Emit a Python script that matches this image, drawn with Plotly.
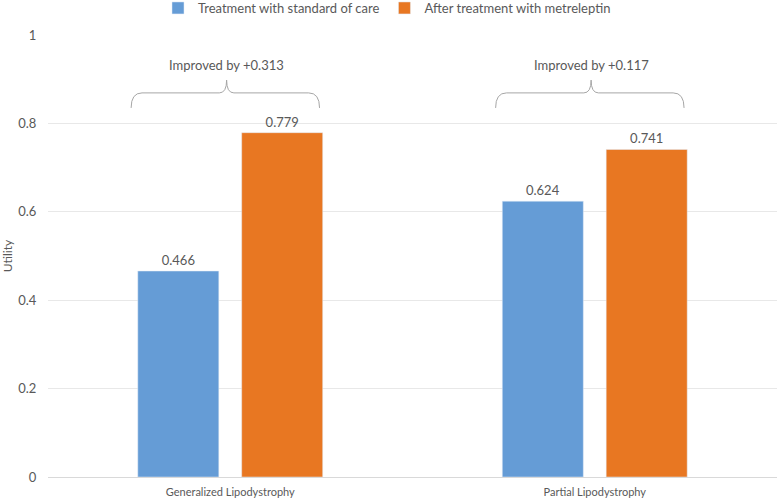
import plotly.graph_objects as go

categories = ["Generalized Lipodystrophy", "Partial Lipodystrophy"]
standard_care = [0.466, 0.624]
metreleptin = [0.779, 0.741]
improvements = ["+0.313", "+0.117"]
y_ticks = [0, 0.2, 0.4, 0.6, 0.8, 1]
y_tick_labels = ["0", "0.2", "0.4", "0.6", "0.8", "1"]

FONT = "Lato"
GRAY = "#595959"

fig = go.Figure()
fig.add_trace(go.Bar(
    name="Treatment with standard of care", x=categories, y=standard_care,
    marker_color="#659CD6", text=[f"{v:.3f}" for v in standard_care],
    textposition="outside", textfont=dict(color=GRAY, size=13, family=FONT),
    cliponaxis=False,
))
fig.add_trace(go.Bar(
    name="After treatment with metreleptin", x=categories, y=metreleptin,
    marker_color="#E87722", text=[f"{v:.3f}" for v in metreleptin],
    textposition="outside", textfont=dict(color=GRAY, size=13, family=FONT),
    cliponaxis=False,
))

# braces and improvement annotations
for i, imp in enumerate(improvements):
    x0, x1, xc = i - 0.272, i + 0.245, i - 0.01
    yb, yh, yp = 0.835, 0.869, 0.898
    path = (f"M {x0},{yb} Q {x0},{yh} {x0+0.03},{yh} "
            f"L {xc-0.02},{yh} Q {xc},{yh} {xc},{yp} "
            f"Q {xc},{yh} {xc+0.02},{yh} "
            f"L {x1-0.03},{yh} Q {x1},{yh} {x1},{yb}")
    fig.add_shape(type="path", path=path, xref="x", yref="y",
                  line=dict(color="#A6A6A6", width=1))
    fig.add_annotation(x=xc, y=0.932, xref="x", yref="y", text=f"Improved by {imp}",
                       showarrow=False, font=dict(color=GRAY, size=13, family=FONT))

fig.update_layout(
    width=777, height=503,
    margin=dict(l=48, r=0, t=35, b=26, autoexpand=False),
    paper_bgcolor="white", plot_bgcolor="white",
    barmode="group", bargap=0.43, bargroupgap=0.22,
    font=dict(family=FONT, color=GRAY, size=12),
    legend=dict(orientation="h", x=0.465, xanchor="center", y=1.095, yanchor="top",
                font=dict(size=13, color=GRAY), itemwidth=30, traceorder="normal",
                tracegroupgap=0),
    xaxis=dict(type="category", showline=False, ticks="", tickfont=dict(size=11, color=GRAY),
               range=[-0.5, 1.5], automargin=False, ticklabelstandoff=7),
    yaxis=dict(range=[0, 1], tickvals=y_ticks, ticktext=y_tick_labels,
               showgrid=True, gridcolor="#E8E8E8", gridwidth=1,
               zeroline=True, zerolinecolor="#D9D9D9", zerolinewidth=1,
               title=dict(text="Utility", font=dict(size=12, color=GRAY), standoff=10),
               tickfont=dict(size=13, color=GRAY), ticks="outside", ticklen=8,
               tickcolor="rgba(0,0,0,0)", automargin=False),
)

fig.write_html("out.html", config={"displayModeBar": False},
               post_script="document.body.style.margin='0';document.body.style.padding='0';")
